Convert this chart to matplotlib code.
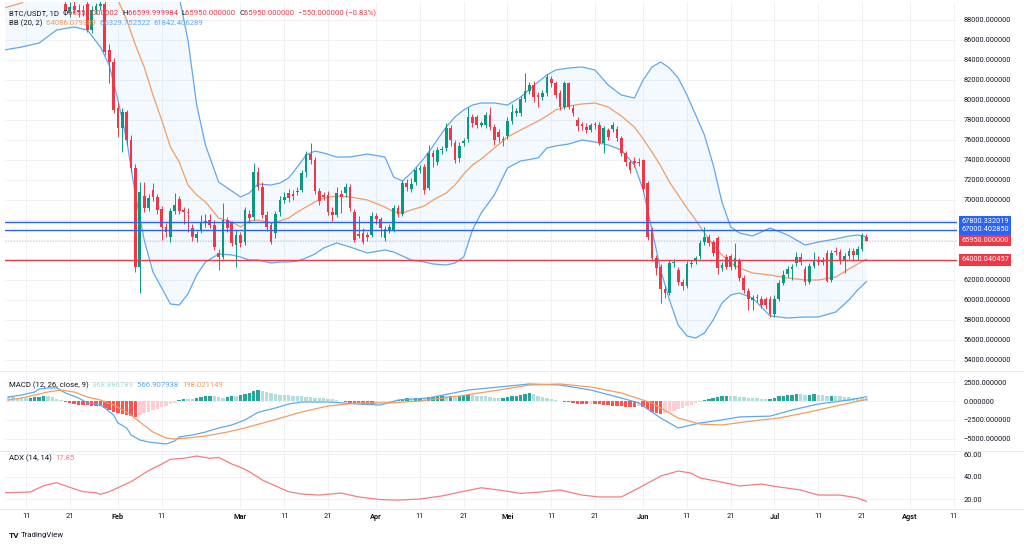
import numpy as np
import pandas as pd
import matplotlib
matplotlib.use("Agg")
import matplotlib.pyplot as plt
import matplotlib.dates as mdates
import matplotlib.transforms as mtransforms

plt.rcParams['font.family'] = ['Roboto', 'DejaVu Sans']

# ---- data ----
START = pd.Timestamp("2023-01-11")
FIRST_CANDLE = 9      # first candle = START + 9 days

opens = [89600, 88700, 89400, 89000, 88900, 89600, 87000, 89000, 89400, 89600,
         85000, 83800, 79200, 77200, 78800, 76000, 73200, 63300, 70400, 69200,
         71000, 70300, 69100, 67300, 66300, 68900, 70100, 69000, 68800, 67200,
         66200, 67000, 67700, 68000, 67500, 64700, 64300, 68000, 67700, 65500,
         66500, 65800, 68600, 68300, 72800, 71300, 68500, 67500, 66700, 68800,
         70000, 70700, 70600, 70900, 71000, 72800, 74600, 74000, 70900, 70500,
         70500, 68800, 68500, 70600, 70700, 71300, 68800, 66600, 66700, 66500,
         66500, 68400, 68100, 66200, 67000, 67000, 69200, 68600, 71700, 71100,
         71800, 73000, 73300, 71200, 74700, 73800, 75000, 75200, 77200, 75700,
         74200, 75700, 76100, 78300, 78300, 77500, 77500, 78500, 77300, 76800,
         76100, 76400, 77900, 78700, 78700, 80100, 80900, 81500, 80500, 80300,
         80700, 82100, 81700, 80700, 79300, 81700, 79200, 78000, 77600, 77300,
         77000, 77600, 77500, 75700, 77000, 77100, 77100, 76200, 74700, 73800,
         73900, 73800, 74000, 71700, 67000, 64200, 63300, 61100, 60700, 63700,
         63000, 61800, 61400, 63600, 63900, 64400, 65800, 66300, 65800, 66200,
         63200, 64300, 64400, 63300, 64000, 62200, 60900, 60000, 60300, 60100,
         60100, 60100, 58600, 60100, 61700, 62600, 63100, 63700, 64300, 63100,
         61800, 63400, 63900, 63800, 64700, 62000, 64900, 64800, 63900, 64400,
         64900, 64500, 65100, 66333]
highs = [90000, 89800, 89900, 89600, 89500, 90000, 89400, 89700, 90000, 90000,
         85600, 84200, 79800, 79200, 79000, 76500, 73600, 71800, 71800, 70600,
         71700, 70600, 69400, 67700, 69200, 70700, 70400, 69300, 69200, 67600,
         66900, 68500, 68600, 68600, 68000, 65100, 69700, 68300, 67900, 67000,
         66800, 69300, 69000, 73700, 73300, 71800, 68900, 67800, 68900, 70400,
         70800, 71100, 71000, 71300, 73000, 74900, 75700, 74300, 71200, 70800,
         70900, 69300, 71300, 71000, 71700, 71600, 69100, 68400, 67200, 66800,
         68800, 68700, 68300, 67400, 67600, 69500, 69500, 72000, 72100, 72200,
         73300, 73500, 73600, 75500, 75000, 75300, 75400, 77700, 77500, 76000,
         75800, 76200, 79300, 78600, 78500, 77900, 78800, 79300, 77600, 77100,
         76400, 78300, 79600, 79200, 80400, 82700, 81800, 81900, 80800, 81000,
         82600, 82400, 81900, 81000, 81900, 81800, 79500, 78300, 77800, 77700,
         77700, 77800, 77800, 77400, 77200, 77800, 77400, 76400, 74900, 74000,
         74300, 74200, 74100, 71900, 67300, 64500, 63600, 61400, 64000, 64100,
         63300, 62100, 63900, 64000, 64400, 66000, 67300, 66600, 66000, 66400,
         63800, 64600, 64600, 65700, 64200, 62500, 61200, 60500, 60600, 60400,
         60300, 60400, 60500, 62000, 63000, 63400, 63600, 64800, 64700, 63400,
         63700, 64800, 64400, 64300, 65000, 65000, 65300, 65100, 64700, 65200,
         65200, 65400, 66700, 66600]
lows = [88500, 88300, 88700, 88300, 88400, 86800, 86700, 88600, 89000, 84500,
        81700, 78700, 76300, 74800, 75500, 72800, 62800, 60700, 68800, 68900,
        69900, 68600, 66000, 66300, 65800, 68600, 68600, 67600, 66800, 65900,
        65800, 66700, 67300, 67200, 65000, 63000, 64100, 66800, 65400, 63300,
        65300, 65500, 67700, 68000, 71000, 68200, 66900, 65600, 66200, 68400,
        69700, 69800, 70000, 70500, 70800, 72300, 73600, 70600, 69500, 70000,
        68500, 67900, 68300, 68700, 70300, 68900, 65800, 66200, 65600, 65900,
        66300, 67600, 66300, 65900, 66700, 66800, 68300, 68400, 70900, 70800,
        71500, 72700, 70600, 71000, 73300, 73500, 74600, 74900, 75400, 73700,
        73800, 75400, 75800, 77300, 77200, 77300, 77200, 77000, 75500, 75800,
        75400, 76100, 77600, 78400, 78400, 79800, 80600, 79800, 79300, 80000,
        80400, 81300, 80200, 79000, 79100, 79100, 78400, 76900, 77000, 76700,
        76800, 77100, 75500, 74700, 76000, 76800, 75900, 74400, 73400, 72700,
        73300, 73400, 70800, 66000, 63900, 62500, 59700, 60200, 60500, 63300,
        61500, 61000, 61200, 63300, 63600, 64100, 65500, 65400, 64400, 62600,
        62900, 63100, 63000, 63100, 61900, 60700, 59000, 59000, 59800, 59200,
        59100, 58300, 58300, 59900, 61500, 62300, 62000, 63400, 63500, 61500,
        61600, 63200, 63500, 63500, 61800, 61800, 64500, 63600, 62700, 64100,
        64000, 64000, 64900, 65950]
closes = [88900, 89300, 89000, 88800, 88800, 87000, 89000, 89400, 89600, 84800,
          83800, 79000, 77200, 78800, 76000, 73200, 63300, 70800, 69200, 70200,
          70300, 69000, 67300, 66800, 68900, 69500, 68900, 68800, 68700, 66300,
          66600, 67700, 67900, 67500, 65300, 64300, 68000, 67200, 65700, 66500,
          65700, 69000, 68200, 72800, 71300, 68500, 67300, 65800, 68600, 70000,
          70300, 70200, 70400, 70800, 72700, 74600, 74000, 70900, 69900, 70300,
          68800, 68500, 70700, 70300, 71300, 69200, 66000, 66400, 65800, 66300,
          68400, 68100, 67200, 67100, 67300, 69200, 68600, 71700, 71300, 71600,
          73000, 73200, 71000, 74700, 74300, 75000, 75100, 77200, 76000, 74000,
          75400, 75900, 78300, 77700, 77500, 77700, 78500, 77300, 76000, 76300,
          76000, 77900, 78800, 78900, 80100, 80900, 81500, 80300, 80300, 80700,
          82300, 81700, 80500, 79300, 81700, 79300, 78700, 77400, 77400, 77000,
          77500, 77500, 75700, 77200, 76300, 77500, 76200, 74700, 73800, 73000,
          73700, 73700, 71100, 66300, 64200, 63200, 61100, 60700, 63700, 63800,
          61800, 61400, 63600, 63700, 64200, 65700, 66300, 65700, 64700, 63200,
          63500, 63300, 63300, 64200, 62200, 61000, 60100, 60200, 60200, 59500,
          59500, 58600, 60100, 61700, 62500, 63100, 63300, 64300, 63800, 61800,
          63400, 63900, 63800, 64000, 61900, 64700, 64800, 63900, 64400, 64900,
          64500, 65100, 66500, 65950]

# Bollinger Bands (20, 2), sampled days after START
bb_days = [-5, -1, 3, 7, 11, 14, 17, 19, 21, 23, 25, 27, 29, 31, 33, 35, 37, 39,
           41, 44, 47, 49, 51, 53, 56, 58, 60, 62, 64, 66, 68, 71, 74, 78, 82, 84,
           86, 88, 91, 93, 96, 98, 100, 102, 104, 107, 110, 113, 117, 119, 121,
           124, 127, 130, 133, 136, 139, 141, 143, 145, 147, 149, 151, 153, 155,
           157, 159, 161, 163, 166, 170, 174, 178, 181, 185, 188, 190, 192]
bb_upper = [95500, 95000, 96000, 96000, 95500, 95000, 94500, 95000, 96500, 98000,
            101000, 103000, 102000, 100000, 97000, 90300, 86000, 79500, 75500,
            71800, 70900, 70300, 70700, 71600, 71500, 71700, 72200, 73300, 74500,
            74900, 74700, 74300, 74300, 74600, 74300, 72300, 71900, 72700, 74200,
            75400, 77300, 78300, 79000, 79500, 79700, 79700, 79500, 80300, 81800,
            82500, 83000, 83200, 83300, 83000, 81500, 80500, 80200, 82000, 83300,
            83800, 83200, 82200, 80500, 78500, 76500, 73500, 69800, 67300, 66700,
            66400, 67200, 66500, 65500, 65800, 66100, 66400, 66500, 66330]
bb_basis = [89200, 89700, 91000, 91700, 91500, 91200, 91000, 90600, 90000, 88000,
            85500, 83300, 80500, 78000, 75300, 73800, 71500, 70500, 69800, 68200,
            67800, 67300, 67900, 68000, 67700, 67900, 68200, 68800, 69300, 69800,
            70200, 70400, 70300, 70000, 69300, 68800, 68700, 69000, 69400, 70000,
            70700, 71500, 72600, 73500, 74100, 75200, 76300, 77000, 77900, 78400,
            79000, 79400, 79600, 79700, 79300, 78400, 77300, 76100, 74800, 73400,
            71800, 70500, 69200, 68000, 66700, 65500, 64500, 63700, 63200, 62700,
            62500, 62200, 62000, 62000, 62300, 63100, 63600, 64086]
bb_lower = [85000, 85300, 85700, 87000, 87300, 87000, 85300, 83500, 80000, 76000,
            70500, 66000, 62800, 61200, 59600, 59500, 60600, 62500, 63800, 64600,
            64500, 64300, 64000, 64000, 63700, 63800, 63800, 63900, 64200, 64600,
            65200, 65700, 65300, 64700, 65000, 64800, 64400, 64000, 63800, 63600,
            63500, 63700, 64300, 67000, 68700, 70500, 73200, 73900, 74200, 75200,
            75400, 75600, 76000, 75800, 75500, 75000, 73500, 71000, 67000, 63000,
            60000, 57500, 56400, 56200, 56700, 58000, 59700, 60500, 60700, 60200,
            58400, 58200, 58300, 58300, 58800, 60000, 61000, 61842]

# MACD (12, 26, close, 9)
macd_days = [-4, -1, 2, 3, 5, 7, 9, 12, 14, 17, 18, 20, 21, 23, 24, 26, 28, 30,
             32, 34, 35, 38, 41, 44, 47, 50, 53, 57, 60, 63, 69, 76, 81, 85, 92,
             101, 108, 115, 122, 129, 136, 140, 145, 149, 154, 159, 163, 170, 175,
             181, 188, 192]
macd_line = [530, 790, 1190, 1590, 1720, 1720, 1060, 400, -260, -530, -920, -1850,
             -2900, -3570, -4490, -5150, -5420, -5550, -5680, -5280, -4760, -4490,
             -4100, -3570, -3170, -2510, -1500, -920, -400, -130, -130, -400, -530,
             130, 400, 1450, 1850, 2250, 2110, 1450, 400, -260, -2250, -3570, -2900,
             -2500, -2100, -2000, -1190, -400, 130, 566.9]
signal_days = [-4, -1, 2, 5, 8, 11, 14, 17, 20, 23, 26, 29, 32, 34, 37, 41, 46, 50,
               55, 59, 63, 69, 76, 83, 90, 99, 108, 115, 122, 129, 136, 143, 149,
               154, 159, 165, 172, 179, 186, 192]
signal_line = [130, 400, 790, 1190, 1450, 1190, 530, 130, -530, -1450, -2770, -4100,
               -4890, -5020, -4890, -4620, -4100, -3570, -2770, -2110, -1450, -660,
               -260, -260, 0, 660, 1450, 2110, 2250, 1850, 1060, -260, -2250, -3040,
               -3170, -2700, -2250, -1450, -530, 198.0]
HIST_FIRST = -4       # one histogram column per day from START-4
macd_hist = [600, 500, 420, 380, 350,
             420, 500, 580, 620, 600, 480, 330, 120,
             -150, -300, -400, -480, -550, -560, -620, -650, -700,
             -900, -1200, -1450, -1600, -1750, -1850, -2000, -2100,
             -1850, -1600, -1400, -1200, -1000, -800, -650, -450, -250,
             150, 250, 220, 200, 350, 500, 650, 700, 600, 500,
             450, 550, 700, 650, 750, 900, 1100, 1300, 1450, 1300,
             1150, 1000, 900, 850, 800, 750, 700, 650,
             600, 550, 500, 450, 400, 350, 300,
             200, 100, 30, -100, -200, -250,
             -300, -350, -380, -400, -350, -300, -250, -150,
             50, 150, 300, 350, 300, 350, 400,
             350, 500, 550, 600, 650, 600, 700, 650, 700, 750,
             800, 750, 700, 650, 600, 500, 450, 400, 450, 500,
             600, 700, 800, 900, 1000, 900, 700,
             500, 400, 300, 150, 30, -100, -150, -300,
             -350, -400, -450, -400, -420, -450, -500, -550, -600, -650,
             -700, -750, -800, -850, -700, -800, -1100,
             -1400, -1600, -1700, -1650, -1500, -1300, -1100, -900,
             -700, -500, -300, -100, 100, 250, 400, 550,
             650, 700, 650, 600, 550, 500, 450, 400,
             350, 300, 280, 300, 450, 600, 700, 800,
             850, 900, 880, 800, 850, 900, 850, 800,
             650, 700, 650, 600, 550, 500, 450, 420, 400, 368.9]

# ADX (14, 14)
adx_days = [-5, 1, 4, 7, 10, 13, 16, 17, 19, 24, 28, 31, 33, 36, 39, 42, 44, 47, 49,
            51, 54, 56, 60, 63, 67, 72, 76, 81, 85, 90, 95, 99, 104, 108, 113, 117,
            122, 127, 131, 136, 140, 145, 149, 152, 154, 159, 163, 168, 172, 177,
            181, 186, 190, 192]
adx_vals = [25.6, 26.2, 31.8, 34.5, 30.4, 26.5, 25.6, 24.2, 26.5, 35.4, 45.2, 51.1,
            55.3, 56.2, 58.2, 56.2, 57.0, 51.1, 48.2, 44.3, 36.9, 33.3, 26.5, 24.4,
            23.5, 25.3, 21.8, 19.5, 19.0, 20.0, 22.7, 26.0, 30.0, 28.0, 25.0, 26.0,
            28.0, 23.5, 21.8, 21.8, 29.8, 40.4, 44.9, 43.0, 38.7, 35.0, 31.6, 33.3,
            30.7, 28.0, 23.5, 23.5, 20.9, 17.85]

# horizontal levels drawn on the chart
level_prices = [67800.332019, 67000.402850, 64000.040457]
level_colors = ['#2962FF', '#2962FF', '#F23645']
last_price = 65950.0

tick_dates = ['2023-01-11', '2023-01-21', '2023-02-01', '2023-02-11', '2023-03-01',
              '2023-03-11', '2023-03-21', '2023-04-01', '2023-04-11', '2023-04-21',
              '2023-05-01', '2023-05-11', '2023-05-21', '2023-06-01', '2023-06-11',
              '2023-06-21', '2023-07-01', '2023-07-11', '2023-07-21', '2023-08-01',
              '2023-08-11']
tick_labels = ['11', '21', 'Feb', '11', 'Mar', '11', '21', 'Apr', '11', '21', 'Mei',
               '11', '21', 'Jun', '11', '21', 'Jul', '11', '21', 'Agst', '11']

# ---- styling ----
UP, DOWN = '#089981', '#F23645'
BAND, BASIS = '#5fa8ee', '#f59c5f'
GRID = '#eff1f6'
TXT = '#131722'
FS = 5.3      # scale labels
LFS = 5.6     # pane legends

W, H = 1024, 544
fig = plt.figure(figsize=(W / 100, H / 100), dpi=100)
fig.patch.set_facecolor('white')


def pane(top, bottom):
    return fig.add_axes([5 / W, 1 - bottom / H, 952 / W, (bottom - top) / H])


ax = pane(2, 370)
axm = pane(372, 450)
axa = pane(452, 508)

base = mdates.date2num(START.to_pydatetime())
cx = base + FIRST_CANDLE + np.arange(len(closes))
o, h, l, c = map(np.array, (opens, highs, lows, closes))
col = np.where(c >= o, UP, DOWN)

# bands
bx = base + np.array(bb_days)
ax.fill_between(bx, bb_lower, bb_upper, color='#2196F3', alpha=0.05, lw=0, zorder=1)
ax.plot(bx, bb_upper, color=BAND, lw=0.9, zorder=2)
ax.plot(bx, bb_lower, color=BAND, lw=0.9, zorder=2)
ax.plot(bx, bb_basis, color=BASIS, lw=0.9, zorder=2)

# candles
ax.vlines(cx, l, h, colors=col, lw=0.7, zorder=3)
body = np.maximum(np.abs(c - o), 60)
ax.bar(cx, body, bottom=np.minimum(o, c), width=0.62, color=col, lw=0, zorder=4)

# levels
for p, lc in zip(level_prices, level_colors):
    ax.axhline(p, color=lc, lw=1.0, zorder=5)
ax.axhline(last_price, color=DOWN, lw=0.8, ls=(0, (1, 1.5)), alpha=0.35, zorder=5)

# MACD
hx = base + HIST_FIRST + np.arange(len(macd_hist))
hv = np.array(macd_hist)
prev = np.concatenate([[hv[0]], hv[:-1]])
hcol = np.where(hv >= 0, np.where(hv > prev, '#26A69A', '#B2DFDB'),
                np.where(hv < prev, '#FF5252', '#FFCDD2'))
axm.bar(hx, hv, width=0.78, color=hcol, lw=0, zorder=2)
axm.plot(base + np.array(macd_days), macd_line, color='#5fa8ee', lw=0.9, zorder=3)
axm.plot(base + np.array(signal_days), signal_line, color='#f59c5f', lw=0.9, zorder=3)

# ADX
axa.plot(base + np.array(adx_days), adx_vals, color='#f77c80', lw=0.9)

# axes limits & ticks
xt = [mdates.date2num(pd.Timestamp(d).to_pydatetime()) for d in tick_dates]
for a in (ax, axm, axa):
    a.set_xlim(base - 4.8, base + 212.7)
    a.set_xticks(xt)
    a.grid(True, color=GRID, lw=0.7)
    a.set_axisbelow(True)
    for s in a.spines.values():
        s.set_visible(False)
    a.yaxis.tick_right()
    a.tick_params(length=0, labelsize=FS, labelcolor=TXT, pad=4.5)
    a.set_facecolor('none')

ax.set_ylim(53000, 89800)
pt = np.arange(54000, 88001, 2000)
ax.set_yticks(pt)
ax.set_yticklabels(['' if v in (64000, 66000, 68000) else f'{v:.6f}' for v in pt])
axm.set_ylim(-6473, 3831)
axm.set_yticks([2500, 0, -2500, -5000])
axm.set_yticklabels(['2500.000000', '0.000000', '\u22122500.000000', '\u22125000.000000'])
axa.set_ylim(12.0, 61.8)
axa.set_yticks([20, 40, 60])
axa.set_yticklabels(['20.00', '40.00', '60.00'])

ax.tick_params(axis='x', labelbottom=False)
axm.tick_params(axis='x', labelbottom=False)
axa.set_xticklabels(tick_labels)
axa.tick_params(axis='x', pad=3.5)
for t, lab in zip(axa.get_xticklabels(), tick_labels):
    if not lab.isdigit():
        t.set_fontweight('bold')

# price tags on the scale
trans = mtransforms.blended_transform_factory(ax.transAxes, ax.transData)
tags = [(level_prices[0], '67800.332019', '#2962FF'),
        (level_prices[1], '67000.402850', '#2962FF'),
        (last_price, '65950.000000', DOWN),
        (level_prices[2], '64000.040457', DOWN)]
for p, s, bc in tags:
    ax.text(1.0045, p, s, transform=trans, ha='left', va='center', fontsize=FS,
            color='white', clip_on=False, zorder=10,
            bbox=dict(boxstyle='square,pad=0.3', fc=bc, ec='none'))

# pane separators
for yy in (371, 451, 509):
    fig.add_artist(plt.Line2D([0, 1], [1 - yy / H] * 2, color='#e8eaf0', lw=0.7))

# legends
renderer = fig.canvas.get_renderer()


def legend_line(x, y, parts):
    x = x / W
    for txt, tc in parts:
        t = fig.text(x, 1 - y / H, txt, color=tc, fontsize=LFS, va='center', ha='left')
        x += t.get_window_extent(renderer=renderer).width / W


legend_line(9, 13, [('BTC/USDT, 1D  ', TXT), ('O', TXT), ('66333.000002  ', DOWN),
                    ('H', TXT), ('66599.999984  ', DOWN), ('L', TXT),
                    ('65950.000000  ', DOWN), ('C', TXT), ('65950.000000  ', DOWN),
                    ('\u2212550.000000 (\u22120.83%)', DOWN)])
legend_line(9, 23, [('BB (20, 2)  ', TXT), ('64086.079389  ', BASIS),
                    ('66329.752522  ', BAND), ('61842.406289', BAND)])
legend_line(9, 385, [('MACD (12, 26, close, 9)  ', TXT), ('368.886789  ', '#a8dcd2'),
                     ('566.907938  ', '#5fa8ee'), ('198.021149', '#f59c5f')])
legend_line(9, 458, [('ADX (14, 14)  ', TXT), ('17.85', '#f77c80')])

fig.text(9 / W, 1 - 535 / H, 'TV', fontsize=6, fontweight='bold', color=TXT, va='center')
fig.text(21 / W, 1 - 535 / H, 'TradingView', fontsize=LFS, color=TXT, va='center')

fig.savefig('out.png', dpi=100)
